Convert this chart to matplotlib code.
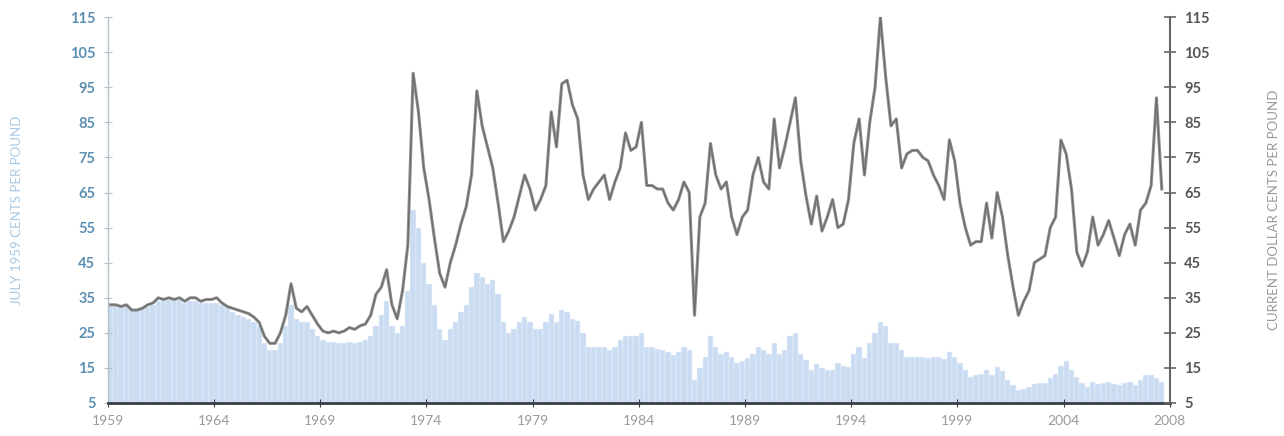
import numpy as np
import matplotlib
matplotlib.use("Agg")
import matplotlib.pyplot as plt

plt.rcParams["font.family"] = ["Lato", "DejaVu Sans"]

years = list(range(1959, 2009))

# current dollar cents per pound, quarterly (line)
nominal = [
    33, 33, 32.5, 33,      # 1959
    31.5, 31.5, 32, 33,    # 1960
    33.5, 35, 34.5, 35,    # 1961
    34.5, 35, 34, 35,      # 1962
    35, 34, 34.5, 34.5,    # 1963
    35, 33.5, 32.5, 32,    # 1964
    31.5, 31, 30.5, 29.5,  # 1965
    28, 24, 22, 22,        # 1966
    25, 30, 39, 32,        # 1967
    31, 32.5, 30, 27.5,    # 1968
    25.5, 25, 25.5, 25,    # 1969
    25.5, 26.5, 26, 27,    # 1970
    27.5, 30, 36, 38,      # 1971
    43, 33, 29, 37,        # 1972
    50, 99, 88, 72,        # 1973
    63, 52, 42, 38,        # 1974
    45, 50, 56, 61,        # 1975
    70, 94, 84, 78,        # 1976
    72, 62, 51, 54,        # 1977
    58, 64, 70, 66,        # 1978
    60, 63, 67, 88,        # 1979
    78, 96, 97, 90,        # 1980
    86, 70, 63, 66,        # 1981
    68, 70, 63, 68,        # 1982
    72, 82, 77, 78,        # 1983
    85, 67, 67, 66,        # 1984
    66, 62, 60, 63,        # 1985
    68, 65, 30, 58,        # 1986
    62, 79, 70, 66,        # 1987
    68, 58, 53, 58,        # 1988
    60, 70, 75, 68,        # 1989
    66, 86, 72, 78,        # 1990
    85, 92, 74, 64,        # 1991
    56, 64, 54, 58,        # 1992
    63, 55, 56, 63,        # 1993
    79, 86, 70, 85,        # 1994
    95, 115, 98, 84,       # 1995
    86, 72, 76, 77,        # 1996
    77, 75, 74, 70,        # 1997
    67, 63, 80, 74,        # 1998
    62, 55, 50, 51,        # 1999
    51, 62, 52, 65,        # 2000
    58, 47, 38, 30,        # 2001
    34, 37, 45, 46,        # 2002
    47, 55, 58, 80,        # 2003
    76, 66, 48, 44,        # 2004
    48, 58, 50, 53,        # 2005
    57, 52, 47, 53,        # 2006
    56, 50, 60, 62,        # 2007
    67, 92, 66,            # 2008
]

# july 1959 cents per pound, quarterly (bars)
real = [
    33, 33, 32.5, 33,      # 1959
    31.5, 31.5, 32, 32.5,  # 1960
    33, 34, 34, 34.5,      # 1961
    34, 34.5, 33.5, 34,    # 1962
    34, 33.5, 33.5, 33.5,  # 1963
    33.5, 33, 32, 31,      # 1964
    30, 29.5, 29, 28,      # 1965
    27, 22, 20, 20,        # 1966
    22, 27, 33, 29,        # 1967
    28, 28, 26, 24,        # 1968
    23, 22.5, 22.5, 22,    # 1969
    22, 22.5, 22, 22.5,    # 1970
    23, 24, 27, 30,        # 1971
    34, 27, 25, 27,        # 1972
    37, 60, 55, 45,        # 1973
    39, 33, 26, 23,        # 1974
    26, 28, 31, 33,        # 1975
    38, 42, 41, 39,        # 1976
    40, 36, 28, 25,        # 1977
    26, 28, 29.5, 28,      # 1978
    26, 26, 28, 30.5,      # 1979
    28, 31.5, 31, 29,      # 1980
    28.5, 25, 21, 21,      # 1981
    21, 21, 20, 21,        # 1982
    23, 24, 24, 24,        # 1983
    25, 21, 21, 20.5,      # 1984
    20, 19.5, 18.7, 19.5,  # 1985
    21, 20, 11.5, 15,      # 1986
    18, 24, 21, 19,        # 1987
    19.5, 18, 16.3, 17,    # 1988
    17.8, 19, 21, 20,      # 1989
    19, 22, 19, 20,        # 1990
    24, 25, 19, 17.2,      # 1991
    14.4, 16, 15, 14.5,    # 1992
    14.4, 16.3, 15.5, 15.3,  # 1993
    19, 21, 17.8, 22,      # 1994
    25, 28, 27, 22,        # 1995
    22, 20, 18, 18,        # 1996
    18, 18, 17.8, 18,      # 1997
    18, 17.5, 19.5, 18,    # 1998
    16.3, 14.5, 12.4, 13,  # 1999
    13.4, 14.5, 13, 15.3,  # 2000
    14, 11.5, 10, 8.7,     # 2001
    9, 9.6, 10.5, 10.6,    # 2002
    10.6, 12, 13.4, 15.5,  # 2003
    17, 14.5, 12.4, 10.6,  # 2004
    9.6, 11, 10.5, 10.6,   # 2005
    11, 10.5, 10, 10.6,    # 2006
    11, 10, 11.5, 12.9,    # 2007
    13, 12, 11,            # 2008
]

y_ticks = [5, 15, 25, 35, 45, 55, 65, 75, 85, 95, 105, 115]
x_tick_labels = ["1959", "1964", "1969", "1974", "1979", "1984",
                 "1989", "1994", "1999", "2004", "2008"]

t = np.array([y + (q + 0.5) / 4 for y in years for q in range(4)])
t_line = t[:len(nominal)]
t_bar = t[:len(real)]

fig = plt.figure(figsize=(12.84, 4.36), dpi=100)
ax = fig.add_axes([0.084, 0.0757, 0.827, 0.885])

ax.bar(t_bar, real, width=0.25, color="#cadcf2", edgecolor="#eef4fb",
       linewidth=0.35, zorder=1)
ax.plot(t_line, nominal, color="#909090", linewidth=2.2, zorder=3)
ax.plot(t_line, nominal, color="#6a6a6a", linewidth=0.8, zorder=4)

ax.set_xlim(1959, 2009)
ax.set_ylim(5, 115)
ax.set_xticks(np.arange(1959, 2010, 5))
ax.set_xticklabels(x_tick_labels, color="#9a9a9a", fontsize=10)
ax.set_yticks(y_ticks)
ax.set_yticklabels([str(v) for v in y_ticks], color="#5b8fb2",
                   fontsize=10.5, fontweight="bold")

for s in ["top", "right"]:
    ax.spines[s].set_visible(False)
ax.spines["left"].set_color("#b5c2c8")
ax.spines["left"].set_linewidth(1)
ax.spines["bottom"].set_color("#3a3f44")
ax.spines["bottom"].set_linewidth(2)
ax.tick_params(axis="y", direction="inout", length=6, color="#b5c2c8", pad=6)
ax.tick_params(axis="x", direction="inout", length=6, color="#3a3f44", pad=6)

ax.set_ylabel("JULY 1959 CENTS PER POUND", color="#a9c9e3", fontsize=9.5,
              labelpad=34)

ax2 = ax.twinx()
ax2.set_ylim(5, 115)
ax2.set_yticks(y_ticks)
ax2.set_yticklabels([str(v) for v in y_ticks], color="#555555",
                    fontsize=10.5, fontweight="bold")
for s in ["top", "left", "bottom"]:
    ax2.spines[s].set_visible(False)
ax2.spines["right"].set_color("#666666")
ax2.spines["right"].set_linewidth(1.5)
ax2.tick_params(axis="y", direction="inout", length=9, color="#666666",
                width=1.2, pad=6)
ax2.set_ylabel("CURRENT DOLLAR CENTS PER POUND", color="#9a9a9a",
               fontsize=9.5, labelpad=42)

fig.savefig("out.png", dpi=100)
